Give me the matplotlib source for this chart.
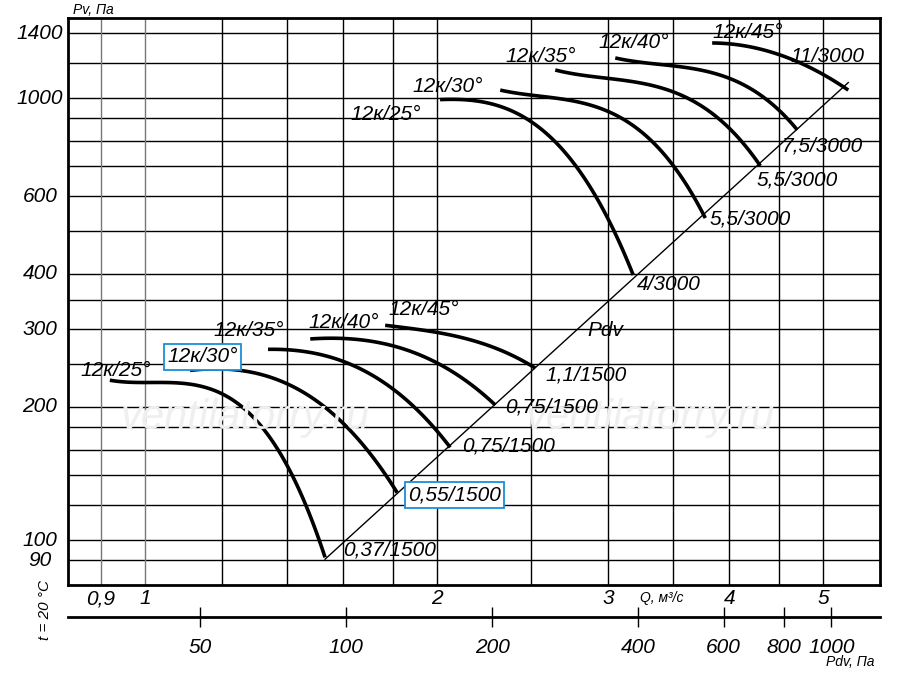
import numpy as np
import matplotlib
matplotlib.use("Agg")
import matplotlib.pyplot as plt

FONT = "Liberation Sans"
K = 38.5  # Pdv = K*Q^2

# Low speed (1500) curves: Q (m3/s), Pv (Pa)
low_q = [[0.92, 1.0, 1.113, 1.224, 1.394, 1.533],
         [1.113, 1.411, 1.627, 1.819],
         [1.339, 1.589, 1.833, 2.063],
         [1.48, 1.789, 2.063, 2.296],
         [1.768, 2.063, 2.323, 2.523]]
low_p = [[229, 229, 225, 207, 152, 91],
         [242, 224, 177, 128],
         [270, 255, 213, 162],
         [285, 276, 242, 202],
         [306, 291, 269, 245]]
high_q = [[2.014, 2.323, 2.679, 3.016, 3.185],
          [2.323, 2.876, 3.396, 3.779],
          [2.647, 3.316, 3.915, 4.306],
          [3.052, 3.735, 4.306, 4.7],
          [3.841, 4.514, 5.305]]
high_p = [[990, 964, 763, 530, 394],
          [1042, 964, 763, 535],
          [1157, 1070, 892, 702],
          [1232, 1157, 1016, 847],
          [1332, 1251, 1042]]

y_ticks = [90, 100, 200, 300, 400, 600, 1000, 1400]
y_grid = [90, 100, 120, 140, 160, 180, 200, 250, 300, 350, 400, 500, 600, 700, 800, 900, 1000, 1200, 1400]
q_ticks = [0.9, 1, 2, 3, 4, 5]
q_tick_labels = ["0,9", "1", "2", "3", "4", "5"]
q_grid = [0.9, 1, 1.2, 1.4, 1.6, 1.8, 2, 2.5, 3, 3.5, 4, 4.5, 5]
pdv_ticks = [50, 100, 200, 400, 600, 800, 1000]

W, H = 900, 673
fig = plt.figure(figsize=(9, 6.73), dpi=100)
L, R, T, B = 68, 880, 18, 585
ax = fig.add_axes([L / W, 1 - B / H, (R - L) / W, (B - T) / H])
ax.set_xscale("log"); ax.set_yscale("log")
qmin, qmax = 0.833, 5.72
ax.set_xlim(qmin, qmax); ax.set_ylim(79.1, 1517)
for v in y_grid:
    ax.axhline(v, color="black", lw=1.0, zorder=1)
for v in q_grid:
    ax.axvline(v, color="#777777" if v < 1.1 else "black", lw=1.0, zorder=1)
ax.set_xticks([]); ax.set_yticks([])
ax.minorticks_off()
for s in ax.spines.values():
    s.set_linewidth(2)

def draw(qs, ps):
    q = np.array(qs); p = np.array(ps)
    lq, lp = np.log10(q), np.log10(p)
    c = np.polyfit(lq, lp, min(3, len(q) - 1))
    xx = np.linspace(lq[0], lq[-1], 100)
    ax.plot(10 ** xx, 10 ** np.polyval(c, xx), color="black", lw=2.6, zorder=3,
            solid_capstyle="butt")

for qs, ps in zip(low_q, low_p):
    draw(qs, ps)
for qs, ps in zip(high_q, high_p):
    draw(qs, ps)

qq = np.linspace(1.533, 5.305, 50)
ax.plot(qq, K * qq ** 2, color="black", lw=1.0, zorder=2)

def ft(x, y, s, size=15, ha="left", va="center", box=False, **kw):
    t = fig.text(x / W, 1 - y / H, s, fontsize=size, ha=ha, va=va, style="italic",
                 family=FONT, **kw)
    if box:
        t.set_bbox(dict(boxstyle="square,pad=0.15", fc="white", ec="#1a8fd6", lw=1.3))
    return t

# watermark
ft(245, 418, "ventilatorry.ru", size=30, ha="center", color="#efefef", zorder=0)
ft(650, 418, "ventilatorry.ru", size=30, ha="center", color="#efefef", zorder=0)

for s, x, y, b in [("12к/25°", 80, 370, False), ("12к/30°", 167, 357, True),
                   ("12к/35°", 213, 330, False), ("12к/40°", 308, 322, False),
                   ("12к/45°", 388, 310, False),
                   ("0,37/1500", 343, 550, False), ("0,55/1500", 408, 495, True),
                   ("0,75/1500", 462, 446, False), ("0,75/1500", 505, 407, False),
                   ("1,1/1500", 545, 375, False), ("Pdv", 587, 330, False),
                   ("12к/25°", 350, 114, False), ("12к/30°", 412, 86, False),
                   ("12к/35°", 505, 56, False), ("12к/40°", 598, 43, False),
                   ("12к/45°", 712, 33, False), ("11/3000", 790, 56, False),
                   ("7,5/3000", 782, 146, False), ("5,5/3000", 757, 180, False),
                   ("5,5/3000", 710, 219, False), ("4/3000", 637, 284, False)]:
    ft(x, y, s, box=b)

# y tick labels
for v in y_ticks:
    y = 540 - 442 * (np.log10(v) - 2)
    ft(40, y, str(v), size=15, ha="center")
ft(73, 10, "Pv, Па", size=10)

# Q tick labels
for v, s in zip(q_ticks, q_tick_labels):
    x = L + (R - L) * (np.log10(v) - np.log10(qmin)) / (np.log10(qmax) - np.log10(qmin))
    ft(x, 599, s, size=15, ha="center")
ft(640, 598, "Q, м³/с", size=10)

# Pdv axis
ax2 = fig.add_axes([L / W, 1 - 617 / H, (R - L) / W, 0.0001])
ax2.set_xscale("log")
ax2.set_xlim(K * qmin ** 2, K * qmax ** 2)
for sp in ["left", "right", "top"]:
    ax2.spines[sp].set_visible(False)
ax2.spines["bottom"].set_linewidth(2)
ax2.set_yticks([])
ax2.minorticks_off()
ax2.set_xticks(pdv_ticks)
ax2.set_xticklabels([str(v) for v in pdv_ticks], fontsize=15, style="italic", family=FONT)
ax2.tick_params(axis="x", direction="inout", length=14, width=1, pad=8)
ft(850, 662, "Pdv, Па", size=10, ha="center")
ft(45, 610, "t = 20 °C", size=11, ha="center", rotation=90)

fig.savefig("out.png", dpi=100)
